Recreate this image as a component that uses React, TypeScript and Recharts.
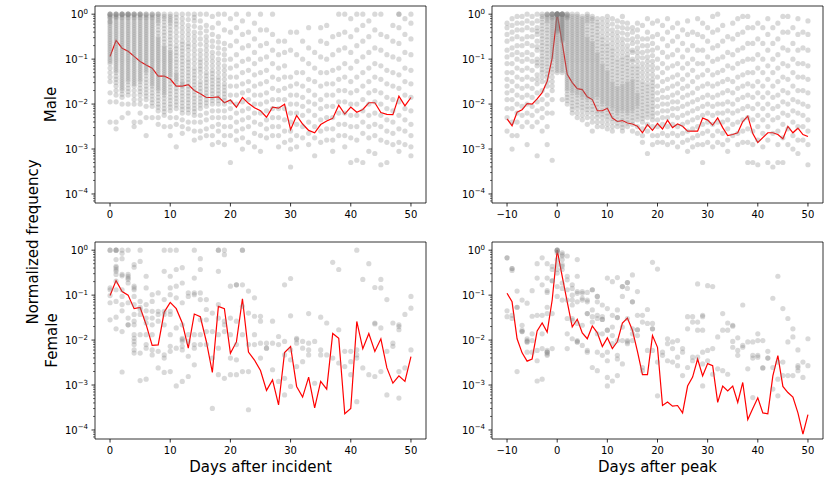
import React from 'react';
import { ComposedChart, Scatter, Line, XAxis, YAxis, ReferenceArea } from 'recharts';

// log10 of each gray point, one list per day
const maleIncidentDotExp: number[][] = [
  [0, 0, 0, -0.05, -0.1, -0.15, -0.2, -0.3, -0.4, -0.5, -0.6, -0.7, -0.8, -0.9, -1.0, -1.1, -1.4, -1.5, -1.75, -1.95, -2.4],
  [0, 0, 0, -0.05, -0.1, -0.2, -0.3, -0.4, -0.5, -0.6, -0.7, -0.8, -0.9, -1.0, -1.1, -1.2, -1.3, -1.45, -1.6, -1.8, -1.95, -2.4, -2.55],
  [0, 0, 0, 0, -0.1, -0.2, -0.3, -0.4, -0.5, -0.6, -0.7, -0.8, -0.9, -1.0, -1.1, -1.2, -1.3, -1.4, -1.5, -1.6, -1.7, -1.85, -2.0, -2.3],
  [0, 0, 0, 0, -0.1, -0.2, -0.3, -0.4, -0.5, -0.6, -0.7, -0.8, -0.9, -1.0, -1.1, -1.2, -1.3, -1.4, -1.5, -1.65, -1.8, -2.0, -2.2],
  [0, 0, 0, -0.1, -0.2, -0.3, -0.4, -0.5, -0.6, -0.7, -0.8, -0.9, -1.0, -1.1, -1.2, -1.3, -1.4, -1.5, -1.6, -1.8, -2.0, -2.4, -2.5],
  [0, 0, 0, -0.1, -0.2, -0.3, -0.4, -0.5, -0.6, -0.7, -0.8, -0.9, -1.0, -1.1, -1.2, -1.3, -1.4, -1.5, -1.65, -1.8, -2.0, -2.2, -2.4],
  [0, 0, -0.1, -0.2, -0.3, -0.4, -0.5, -0.6, -0.7, -0.8, -0.9, -1.0, -1.1, -1.2, -1.3, -1.45, -1.6, -1.75, -1.9, -2.05, -2.3, -2.7],
  [0, 0, -0.1, -0.2, -0.3, -0.4, -0.5, -0.6, -0.7, -0.8, -0.9, -1.0, -1.1, -1.2, -1.3, -1.4, -1.5, -1.6, -1.75, -1.9, -2.05, -2.3],
  [0, 0, -0.1, -0.2, -0.35, -0.5, -0.6, -0.7, -0.8, -0.9, -1.0, -1.1, -1.2, -1.3, -1.4, -1.5, -1.6, -1.7, -1.85, -2.0, -2.15, -2.3, -2.45],
  [0, -0.1, -0.25, -0.4, -0.55, -0.7, -0.8, -0.9, -1.0, -1.1, -1.2, -1.3, -1.4, -1.5, -1.6, -1.7, -1.8, -1.95, -2.1, -2.25, -2.5],
  [0, -0.1, -0.2, -0.35, -0.5, -0.65, -0.8, -0.9, -1.0, -1.1, -1.2, -1.3, -1.4, -1.55, -1.7, -1.85, -2.0, -2.15, -2.3, -2.5, -2.7],
  [0, -0.15, -0.3, -0.5, -0.7, -0.85, -1.0, -1.15, -1.3, -1.4, -1.5, -1.65, -1.8, -1.95, -2.1, -2.3, -2.45, -2.95],
  [0, -0.2, -0.4, -0.6, -0.75, -0.9, -1.05, -1.2, -1.35, -1.5, -1.6, -1.75, -1.9, -2.05, -2.2, -2.35, -2.5, -2.65],
  [0, -0.25, -0.45, -0.65, -0.8, -1.0, -1.15, -1.3, -1.45, -1.6, -1.75, -1.9, -2.05, -2.2, -2.4, -2.55],
  [0, -0.15, -0.4, -0.6, -0.8, -1.0, -1.2, -1.35, -1.5, -1.65, -1.8, -1.95, -2.1, -2.25, -2.4, -2.6, -2.8],
  [0, -0.3, -0.55, -0.8, -1.0, -1.15, -1.3, -1.5, -1.65, -1.8, -1.95, -2.1, -2.25, -2.4, -2.6, -2.75],
  [0, -0.25, -0.5, -0.7, -0.9, -1.1, -1.3, -1.45, -1.6, -1.75, -1.9, -2.05, -2.2, -2.35, -2.55, -2.7],
  [-0.05, -0.3, -0.6, -0.85, -1.05, -1.25, -1.4, -1.55, -1.7, -1.85, -2.0, -2.15, -2.3, -2.5, -2.7, -2.9],
  [0, -0.2, -0.5, -0.75, -1.0, -1.2, -1.4, -1.55, -1.7, -1.85, -2.0, -2.15, -2.3, -2.45, -2.6, -2.85],
  [0, -0.35, -0.65, -0.9, -1.15, -1.35, -1.55, -1.7, -1.85, -2.0, -2.15, -2.3, -2.5, -2.7, -2.9],
  [-0.1, -0.4, -0.7, -1.0, -1.2, -1.4, -1.6, -1.8, -1.95, -2.1, -2.3, -2.5, -2.7, -3.3],
  [0, -0.3, -0.6, -0.9, -1.15, -1.4, -1.6, -1.8, -2.0, -2.2, -2.4, -2.6, -2.8],
  [-0.15, -0.45, -0.75, -1.05, -1.3, -1.55, -1.75, -1.95, -2.15, -2.35, -2.55, -2.75, -3.0],
  [0, -0.4, -0.7, -1.0, -1.25, -1.5, -1.7, -1.9, -2.1, -2.3, -2.5, -2.85],
  [-0.2, -0.55, -0.85, -1.1, -1.35, -1.6, -1.8, -2.0, -2.2, -2.4, -2.65, -2.95],
  [0, -0.35, -0.7, -1.0, -1.3, -1.55, -1.8, -2.0, -2.2, -2.45, -2.7, -3.05],
  [-0.35, -0.65, -0.95, -1.25, -1.5, -1.75, -1.95, -2.15, -2.35, -2.55, -2.75],
  [0, -0.45, -0.8, -1.1, -1.4, -1.65, -1.9, -2.1, -2.3, -2.5, -2.7],
  [-0.6, -0.9, -1.2, -1.45, -1.7, -1.9, -2.1, -2.3, -2.5, -2.7, -2.95],
  [-0.6, -0.85, -1.15, -1.4, -1.65, -1.9, -2.1, -2.35, -2.6, -2.85],
  [-0.4, -0.8, -1.4, -1.6, -1.8, -2.0, -2.2, -2.4, -2.6, -2.8, -3.0, -3.4],
  [-0.4, -0.9, -1.3, -1.55, -1.8, -2.0, -2.2, -2.45, -2.7, -2.95],
  [-0.6, -1.0, -1.3, -1.6, -1.85, -2.05, -2.25, -2.5, -2.75],
  [-0.3, -0.75, -1.1, -1.45, -1.7, -1.95, -2.15, -2.4, -2.65, -2.9],
  [-0.85, -1.2, -1.5, -1.8, -2.0, -2.25, -2.5, -2.75, -3.15],
  [-0.3, -0.6, -0.95, -1.3, -1.6, -1.9, -2.1, -2.35, -2.6, -2.85],
  [-0.25, -0.65, -1.0, -1.3, -1.55, -1.8, -2.05, -2.3, -2.55, -2.8],
  [-0.5, -0.9, -1.25, -1.55, -1.8, -2.05, -2.3, -2.55, -2.8, -3.05],
  [0, -0.45, -0.8, -1.2, -1.45, -1.7, -1.95, -2.2, -2.45, -2.7],
  [0, -0.4, -0.75, -1.1, -1.4, -1.7, -1.95, -2.2, -2.45, -2.7, -2.95],
  [-0.1, -0.5, -0.85, -1.2, -1.5, -1.75, -2.0, -2.25, -2.5, -2.75, -3.3],
  [0, -0.35, -0.7, -1.05, -1.4, -1.7, -2.0, -2.25, -2.5, -2.8, -3.25],
  [0, -0.25, -0.6, -0.95, -1.3, -1.6, -1.9, -2.15, -2.4, -2.65, -3.3],
  [-0.15, -0.5, -0.85, -1.2, -1.5, -1.75, -2.0, -2.25, -2.5, -2.75, -3.05],
  [0, -0.35, -0.75, -1.1, -1.4, -1.7, -1.95, -2.2, -2.45, -2.7, -3.1],
  [0, -0.45, -0.8, -1.15, -1.45, -1.75, -2.0, -2.25, -2.5, -2.8, -3.35],
  [-0.5, -0.9, -1.25, -1.55, -1.85, -2.1, -2.35, -2.6, -2.85, -3.3],
  [-0.25, -0.6, -0.95, -1.3, -1.6, -1.9, -2.15, -2.4, -2.65, -2.9],
  [0, 0, -0.3, -0.65, -1.0, -1.35, -1.65, -1.95, -2.25, -2.55, -2.85, -3.05],
  [-0.1, -0.45, -0.85, -1.2, -1.5, -1.8, -2.1, -2.35, -2.6, -2.9],
  [0, -0.2, -0.55, -0.9, -1.25, -1.55, -1.85, -2.15, -2.45, -2.7, -2.95, -3.15],
];

// extra points in the dark core, days 0..19
const maleIncidentCoreExp: number[][] = [
  [-0.02, -0.07, -0.17, -0.25, -0.35, -0.45, -0.55, -0.65, -0.75, -0.85, -0.95, -1.05, -1.2, -1.3],
  [-0.02, -0.07, -0.15, -0.25, -0.35, -0.45, -0.55, -0.65, -0.75, -0.85, -0.95, -1.05, -1.15, -1.25, -1.38, -1.52, -1.7],
  [-0.03, -0.07, -0.15, -0.25, -0.35, -0.45, -0.55, -0.65, -0.75, -0.85, -0.95, -1.05, -1.15, -1.25, -1.35, -1.45, -1.55, -1.65, -1.78],
  [-0.03, -0.07, -0.15, -0.25, -0.35, -0.45, -0.55, -0.65, -0.75, -0.85, -0.95, -1.05, -1.15, -1.25, -1.35, -1.45, -1.57, -1.72],
  [-0.03, -0.07, -0.15, -0.25, -0.35, -0.45, -0.55, -0.65, -0.75, -0.85, -0.95, -1.05, -1.15, -1.25, -1.35, -1.45, -1.55, -1.7, -1.9],
  [-0.03, -0.07, -0.15, -0.25, -0.35, -0.45, -0.55, -0.65, -0.75, -0.85, -0.95, -1.05, -1.15, -1.25, -1.35, -1.45, -1.57, -1.72, -1.9],
  [-0.03, -0.07, -0.15, -0.25, -0.35, -0.45, -0.55, -0.65, -0.75, -0.85, -0.95, -1.05, -1.15, -1.25, -1.37, -1.52, -1.67, -1.82],
  [-0.03, -0.07, -0.15, -0.25, -0.35, -0.45, -0.55, -0.65, -0.75, -0.85, -0.95, -1.05, -1.15, -1.25, -1.35, -1.45, -1.55, -1.67, -1.82, -1.97],
  [-0.05, -0.15, -0.27, -0.42, -0.55, -0.65, -0.75, -0.85, -0.95, -1.05, -1.15, -1.25, -1.35, -1.45, -1.55, -1.65, -1.77, -1.92, -2.07],
  [-0.05, -0.17, -0.32, -0.47, -0.62, -0.75, -0.85, -0.95, -1.05, -1.15, -1.25, -1.35, -1.45, -1.55, -1.65, -1.75, -1.87, -2.02, -2.17],
  [-0.05, -0.15, -0.27, -0.42, -0.57, -0.72, -0.85, -0.95, -1.05, -1.15, -1.25, -1.35, -1.47, -1.62, -1.77, -1.92, -2.07],
  [-0.07, -0.22, -0.4, -0.6, -0.77, -0.92, -1.07, -1.22, -1.35, -1.45, -1.57, -1.72, -1.87, -2.02],
  [-0.1, -0.3, -0.5, -0.67, -0.82, -0.97, -1.12, -1.27, -1.42, -1.55, -1.67, -1.82, -1.97, -2.12],
  [-0.12, -0.35, -0.55, -0.72, -0.9, -1.07, -1.22, -1.37, -1.52, -1.67, -1.82, -1.97, -2.12],
  [-0.07, -0.27, -0.5, -0.7, -0.9, -1.1, -1.27, -1.42, -1.57, -1.72, -1.87, -2.02, -2.17],
  [-0.15, -0.42, -0.67, -0.9, -1.07, -1.22, -1.4, -1.57, -1.72, -1.87, -2.02],
  [-0.37, -0.6, -0.8, -1.0, -1.2, -1.37, -1.52, -1.67, -1.82, -1.97],
  [-0.45, -0.72, -0.95, -1.15, -1.32, -1.47, -1.62, -1.77, -1.92],
  [-0.62, -0.87, -1.1, -1.3, -1.47, -1.62, -1.77, -1.92],
  [-0.78, -1.02, -1.25, -1.45, -1.62, -1.77, -1.92],
];

// first list is day -10
const malePeakDotExp: number[][] = [
  [-0.2, -0.3, -0.45, -0.6, -0.8, -0.95, -1.1, -1.3, -1.45, -1.6, -1.75, -1.9, -2.1, -2.3, -2.6],
  [-0.1, -0.25, -0.4, -0.55, -0.75, -0.9, -1.1, -1.3, -1.5, -1.7, -1.9, -2.1, -2.4, -2.7, -3.0],
  [-0.05, -0.2, -0.35, -0.5, -0.7, -0.85, -1.0, -1.2, -1.4, -1.6, -1.8, -2.0, -2.2, -2.4, -2.7],
  [-0.05, -0.2, -0.35, -0.55, -0.7, -0.9, -1.05, -1.25, -1.45, -1.65, -1.85, -2.05, -2.25, -2.5],
  [0, -0.15, -0.3, -0.5, -0.65, -0.85, -1.0, -1.2, -1.4, -1.6, -1.8, -2.0, -2.2, -2.4, -2.9],
  [-0.05, -0.2, -0.35, -0.5, -0.7, -0.9, -1.05, -1.25, -1.45, -1.65, -1.85, -2.05, -2.25, -2.5],
  [0, -0.15, -0.3, -0.45, -0.6, -0.8, -1.0, -1.15, -1.35, -1.55, -1.75, -1.95, -2.15, -2.4, -3.15],
  [0, -0.1, -0.25, -0.4, -0.55, -0.7, -0.85, -1.0, -1.15, -1.3, -1.5, -1.7, -1.9, -2.1, -2.3, -2.6],
  [0, 0, -0.1, -0.2, -0.35, -0.5, -0.65, -0.8, -0.95, -1.1, -1.25, -1.4, -1.6, -1.8, -2.0, -2.2, -2.5, -2.9],
  [0, 0, 0, -0.1, -0.2, -0.3, -0.4, -0.5, -0.6, -0.7, -0.8, -0.9, -1.0, -1.15, -1.3, -1.5, -1.7, -1.9, -2.2, -3.25],
  [0, 0, 0, 0, 0, 0, -0.05, -0.1, -0.15, -0.2, -0.25, -0.3, -0.35, -0.4, -0.5, -0.6, -0.7, -0.8, -0.9, -1.0, -1.1, -1.2, -1.3],
  [0, 0, 0, 0, -0.05, -0.1, -0.15, -0.2, -0.25, -0.3, -0.35, -0.4, -0.45, -0.5, -0.55, -0.6, -0.7, -0.8, -0.9, -1.0, -1.1, -1.2, -1.3, -1.9],
  [0, 0, -0.05, -0.1, -0.2, -0.3, -0.4, -0.5, -0.6, -0.7, -0.8, -0.9, -1.0, -1.1, -1.2, -1.3, -1.4, -1.5, -1.6, -1.7, -1.85, -2.0],
  [0, -0.05, -0.15, -0.25, -0.35, -0.45, -0.55, -0.65, -0.75, -0.85, -0.95, -1.05, -1.15, -1.25, -1.35, -1.45, -1.55, -1.65, -1.75, -1.9, -2.05, -2.2],
  [0, -0.1, -0.2, -0.3, -0.4, -0.5, -0.6, -0.7, -0.8, -0.9, -1.0, -1.1, -1.2, -1.3, -1.4, -1.5, -1.6, -1.7, -1.8, -1.95, -2.1, -2.3],
  [-0.05, -0.15, -0.25, -0.35, -0.45, -0.55, -0.65, -0.75, -0.85, -0.95, -1.05, -1.15, -1.25, -1.35, -1.45, -1.55, -1.65, -1.75, -1.85, -2.0, -2.15, -2.35],
  [0, -0.1, -0.2, -0.35, -0.5, -0.6, -0.7, -0.8, -0.9, -1.0, -1.1, -1.2, -1.3, -1.4, -1.5, -1.6, -1.7, -1.8, -1.9, -2.05, -2.2, -2.45],
  [-0.05, -0.15, -0.3, -0.45, -0.6, -0.7, -0.8, -0.9, -1.0, -1.1, -1.2, -1.3, -1.4, -1.5, -1.6, -1.7, -1.8, -1.9, -2.05, -2.2, -2.4, -2.6],
  [-0.1, -0.25, -0.4, -0.55, -0.7, -0.85, -0.95, -1.05, -1.15, -1.25, -1.35, -1.45, -1.55, -1.65, -1.75, -1.85, -2.0, -2.15, -2.3, -2.5],
  [-0.1, -0.3, -0.5, -0.65, -0.8, -0.95, -1.1, -1.2, -1.3, -1.4, -1.5, -1.6, -1.7, -1.8, -1.9, -2.0, -2.15, -2.3, -2.5],
  [-0.05, -0.25, -0.45, -0.65, -0.8, -0.95, -1.1, -1.25, -1.35, -1.45, -1.55, -1.65, -1.75, -1.85, -1.95, -2.05, -2.2, -2.35, -2.55],
  [-0.1, -0.35, -0.55, -0.75, -0.9, -1.05, -1.2, -1.35, -1.5, -1.6, -1.7, -1.8, -1.9, -2.0, -2.1, -2.25, -2.4, -2.6],
  [-0.15, -0.4, -0.6, -0.8, -1.0, -1.15, -1.3, -1.45, -1.6, -1.7, -1.8, -1.9, -2.0, -2.1, -2.2, -2.35, -2.5],
  [-0.05, -0.3, -0.55, -0.75, -0.95, -1.1, -1.25, -1.4, -1.55, -1.65, -1.75, -1.85, -1.95, -2.05, -2.15, -2.3, -2.45, -2.6],
  [-0.2, -0.45, -0.7, -0.9, -1.05, -1.2, -1.35, -1.5, -1.6, -1.7, -1.8, -1.9, -2.0, -2.1, -2.2, -2.35, -2.5],
  [-0.3, -0.55, -0.8, -1.0, -1.15, -1.3, -1.45, -1.55, -1.65, -1.75, -1.85, -1.95, -2.05, -2.15, -2.3, -2.45, -2.6],
  [-0.2, -0.5, -0.75, -0.95, -1.15, -1.3, -1.45, -1.6, -1.75, -1.85, -1.95, -2.05, -2.2, -2.35, -2.5, -2.65],
  [-0.25, -0.55, -0.85, -1.1, -1.3, -1.5, -1.65, -1.8, -1.95, -2.1, -2.25, -2.4, -2.55, -2.7, -2.85],
  [-0.1, -0.4, -0.7, -0.95, -1.15, -1.35, -1.55, -1.7, -1.85, -2.0, -2.15, -2.3, -2.45, -2.6, -3.1],
  [-0.2, -0.5, -0.8, -1.05, -1.25, -1.45, -1.6, -1.75, -1.9, -2.05, -2.2, -2.35, -2.5, -2.7, -2.9],
  [-0.15, -0.45, -0.75, -1.0, -1.2, -1.4, -1.6, -1.75, -1.9, -2.05, -2.2, -2.35, -2.5, -2.7, -2.85],
  [-0.25, -0.55, -0.85, -1.1, -1.3, -1.5, -1.7, -1.85, -2.0, -2.15, -2.3, -2.45, -2.65, -2.85],
  [-0.1, -0.4, -0.7, -0.95, -1.2, -1.45, -1.65, -1.85, -2.0, -2.15, -2.3, -2.5, -2.7, -2.9],
  [-0.3, -0.6, -0.9, -1.15, -1.4, -1.6, -1.8, -1.95, -2.1, -2.25, -2.45, -2.65, -2.85],
  [-0.2, -0.5, -0.8, -1.1, -1.35, -1.55, -1.75, -1.95, -2.1, -2.3, -2.5, -2.7, -2.95],
  [-0.35, -0.65, -0.95, -1.2, -1.45, -1.65, -1.85, -2.05, -2.25, -2.45, -2.65, -2.85],
  [-0.15, -0.45, -0.8, -1.1, -1.35, -1.6, -1.8, -2.0, -2.2, -2.4, -2.6, -2.8, -3.05],
  [-0.4, -0.7, -1.0, -1.25, -1.5, -1.75, -1.95, -2.15, -2.35, -2.55, -2.75, -2.95],
  [-0.1, -0.45, -0.8, -1.1, -1.4, -1.65, -1.9, -2.1, -2.3, -2.5, -2.7, -2.9],
  [-0.2, -0.5, -0.8, -1.1, -1.35, -1.6, -1.85, -2.05, -2.25, -2.45, -2.65, -2.9, -3.3],
  [-0.3, -0.6, -0.95, -1.25, -1.55, -1.8, -2.0, -2.2, -2.4, -2.6, -2.85],
  [-0.05, -0.4, -0.75, -1.05, -1.35, -1.6, -1.85, -2.05, -2.25, -2.45, -2.7, -2.95],
  [0, -0.35, -0.7, -1.0, -1.3, -1.55, -1.8, -2.0, -2.2, -2.4, -2.6, -2.85],
  [-0.25, -0.6, -0.95, -1.25, -1.5, -1.75, -2.0, -2.2, -2.4, -2.65, -2.9],
  [-0.5, -0.85, -1.15, -1.45, -1.7, -1.95, -2.15, -2.35, -2.55, -2.8, -3.05],
  [-0.2, -0.55, -0.9, -1.2, -1.5, -1.75, -2.0, -2.2, -2.45, -2.7],
  [-0.1, -0.45, -0.8, -1.1, -1.4, -1.65, -1.9, -2.15, -2.4, -2.65, -2.9],
  [-0.05, -0.4, -0.75, -1.05, -1.35, -1.6, -1.85, -2.1, -2.35, -2.6, -2.85],
  [-0.05, -0.3, -0.65, -1.0, -1.3, -1.55, -1.8, -2.05, -2.3, -2.55, -2.85, -3.3],
  [-0.3, -0.65, -1.0, -1.3, -1.6, -1.85, -2.1, -2.35, -2.6, -2.9, -3.3],
  [-0.2, -0.55, -0.9, -1.2, -1.5, -1.75, -2.0, -2.25, -2.5, -2.8, -3.35],
  [-0.3, -0.65, -1.0, -1.3, -1.6, -1.85, -2.1, -2.35, -2.65, -2.95],
  [-0.1, -0.45, -0.8, -1.15, -1.45, -1.75, -2.0, -2.25, -2.5, -2.8, -3.3],
  [-0.3, -0.65, -1.0, -1.3, -1.6, -1.85, -2.1, -2.35, -2.65, -3.4],
  [-0.2, -0.55, -0.9, -1.2, -1.5, -1.8, -2.05, -2.3, -2.6, -2.9, -3.3],
  [-0.05, -0.4, -0.75, -1.1, -1.4, -1.7, -1.95, -2.2, -2.45, -2.75, -3.3],
  [-0.05, -0.4, -0.8, -1.15, -1.45, -1.75, -2.0, -2.25, -2.55, -2.9],
  [-0.3, -0.65, -1.0, -1.3, -1.6, -1.9, -2.15, -2.4, -2.7, -3.0],
  [-0.1, -0.45, -0.8, -1.1, -1.4, -1.7, -1.95, -2.2, -2.5, -2.8, -3.1],
  [-0.4, -0.75, -1.1, -1.4, -1.7, -2.0, -2.25, -2.5, -2.8],
  [-0.15, -0.45, -0.8, -1.15, -1.45, -1.75, -2.05, -2.35, -2.6, -2.9, -3.35],
];

// extra points in the dark core, days -4..19
const malePeakCoreExp: number[][] = [
  [-0.38, -0.72, -1.08, -1.45],
  [-0.05, -0.18, -0.33, -0.48, -0.63, -0.78, -0.93, -1.08, -1.23, -1.4],
  [-0.02, -0.06, -0.15, -0.28, -0.42, -0.57, -0.72, -0.87, -1.02, -1.17, -1.33, -1.5],
  [0, -0.05, -0.08, -0.15, -0.25, -0.35, -0.45, -0.55, -0.65, -0.75, -0.85, -0.95, -1.07, -1.22, -1.4, -1.6],
  [0, 0, 0, -0.03, -0.08, -0.13, -0.18, -0.23, -0.28, -0.33, -0.38, -0.45, -0.55, -0.65, -0.75, -0.85, -0.95, -1.05, -1.15, -1.25],
  [0, 0, -0.03, -0.08, -0.13, -0.18, -0.23, -0.28, -0.33, -0.38, -0.43, -0.48, -0.53, -0.58, -0.65, -0.75, -0.85, -0.95, -1.05, -1.15, -1.25],
  [-0.03, -0.08, -0.15, -0.25, -0.35, -0.45, -0.55, -0.65, -0.75, -0.85, -0.95, -1.05, -1.15, -1.25, -1.35, -1.45, -1.55, -1.65, -1.78, -1.92],
  [-0.1, -0.2, -0.3, -0.4, -0.5, -0.6, -0.7, -0.8, -0.9, -1.0, -1.1, -1.2, -1.3, -1.4, -1.5, -1.6, -1.7, -1.82, -1.97, -2.12],
  [-0.05, -0.15, -0.25, -0.35, -0.45, -0.55, -0.65, -0.75, -0.85, -0.95, -1.05, -1.15, -1.25, -1.35, -1.45, -1.55, -1.65, -1.75, -1.87, -2.02, -2.2],
  [-0.1, -0.2, -0.3, -0.4, -0.5, -0.6, -0.7, -0.8, -0.9, -1.0, -1.1, -1.2, -1.3, -1.4, -1.5, -1.6, -1.7, -1.8, -1.92, -2.07, -2.25],
  [-0.05, -0.15, -0.28, -0.42, -0.55, -0.65, -0.75, -0.85, -0.95, -1.05, -1.15, -1.25, -1.35, -1.45, -1.55, -1.65, -1.75, -1.85, -1.97, -2.12, -2.3],
  [-0.1, -0.22, -0.37, -0.52, -0.65, -0.75, -0.85, -0.95, -1.05, -1.15, -1.25, -1.35, -1.45, -1.55, -1.65, -1.75, -1.85, -1.97, -2.12, -2.3],
  [-0.18, -0.32, -0.47, -0.62, -0.77, -0.9, -1.0, -1.1, -1.2, -1.3, -1.4, -1.5, -1.6, -1.7, -1.8, -1.92, -2.07, -2.22, -2.4],
  [-0.2, -0.4, -0.57, -0.72, -0.87, -1.02, -1.15, -1.25, -1.35, -1.45, -1.55, -1.65, -1.75, -1.85, -1.95, -2.07, -2.22, -2.4],
  [-0.15, -0.35, -0.55, -0.72, -0.87, -1.02, -1.17, -1.3, -1.4, -1.5, -1.6, -1.7, -1.8, -1.9, -2.0, -2.12, -2.27, -2.45],
  [-0.22, -0.45, -0.65, -0.82, -0.97, -1.12, -1.27, -1.42, -1.55, -1.65, -1.75, -1.85, -1.95, -2.05, -2.17, -2.32, -2.5],
  [-0.28, -0.5, -0.7, -0.9, -1.07, -1.22, -1.37, -1.52, -1.65, -1.75, -1.85, -1.95, -2.05, -2.15, -2.27, -2.42],
  [-0.18, -0.42, -0.65, -0.85, -1.02, -1.17, -1.32, -1.47, -1.6, -1.7, -1.8, -1.9, -2.0, -2.1, -2.22, -2.37, -2.52],
  [-0.32, -0.57, -0.8, -0.97, -1.12, -1.27, -1.42, -1.55, -1.65, -1.75, -1.85, -1.95, -2.05, -2.15, -2.27, -2.42],
  [-0.4, -0.65, -0.85, -1.05, -1.22, -1.37, -1.5, -1.6, -1.7, -1.8, -1.9, -2.0, -2.1, -2.22, -2.37],
  [-0.35, -0.62, -0.85, -1.05, -1.22, -1.37, -1.52, -1.67, -1.8, -1.9, -2.0, -2.12, -2.27],
  [-0.7, -0.97, -1.2, -1.4, -1.57, -1.72, -1.87, -2.02, -2.17, -2.32],
  [-0.55, -0.82, -1.05, -1.25, -1.45, -1.62, -1.77, -1.92, -2.07, -2.22],
  [-0.65, -0.92, -1.15, -1.35, -1.52, -1.67, -1.82, -1.97, -2.12, -2.27],
];

const femaleIncidentDotExp: number[][] = [
  [0, 0, -0.84, -0.88, -1.01, -1.17, -1.55],
  [0, 0, 0, -0.21, -0.36, -0.39, -0.43, -0.47, -0.54, -0.69, -0.88, -1.14, -1.49, -1.75],
  [0, -0.07, -0.19, -0.54, -0.57, -0.88, -1.03, -1.21, -1.35, -1.81, -2.71],
  [0, -0.54, -0.58, -0.62, -0.65, -0.73, -1.17, -1.51, -1.66, -1.66],
  [-0.32, -0.38, -0.8, -0.84, -0.88, -1.03, -1.21, -1.43, -1.58, -1.66, -1.88, -1.96, -2.03, -2.1, -2.22, -2.29],
  [0, -0.25, -1.14, -1.27, -1.32, -1.43, -1.88, -2.29, -2.9],
  [-0.58, -0.84, -1.21, -1.35, -1.51, -1.62, -1.88, -2.1, -2.18, -2.87],
  [-0.99, -1.14, -1.36, -1.51, -1.66, -1.88, -2.22, -2.33],
  [-0.95, -1.36, -1.43, -1.58, -2.25, -2.62],
  [0, -0.47, -1.1, -1.36, -1.43, -1.66, -2.33, -2.4, -2.72],
  [0, -0.58, -0.84, -0.99, -1.36, -1.43, -1.88, -2.14, -2.25, -2.7],
  [0, -0.43, -0.8, -1.06, -1.73, -2.18, -3.02],
  [-0.39, -0.73, -1.17, -1.66, -1.96, -1.99, -2.03, -2.14, -2.22, -2.92],
  [-0.95, -1.03, -1.88, -2.03, -2.36, -2.81],
  [0, -0.62, -0.95, -0.99, -1.88, -2.1, -2.18, -2.55],
  [-0.19, -0.43, -0.95, -1.1, -1.55, -1.88, -2.1],
  [-1.1, -1.32, -1.55, -1.81, -2.1],
  [-1.4, -1.81, -2.4, -3.52],
  [0, 0, -0.47, -1.21, -1.51, -1.88, -2.18, -2.77],
  [0, -0.1, -1.58, -1.66, -1.81, -2.85],
  [-0.8, -1.51, -1.88, -2.4, -2.77],
  [-0.77, -0.77, -1.58, -2.1, -2.44, -2.77],
  [0, 0, -0.77, -1.25, -1.88, -2.7],
  [-0.91, -1.4, -2.1, -2.7, -3.55],
  [-1.06, -1.47, -1.88, -2.1],
  [-1.47, -1.58, -2.07, -2.4],
  [-2.07, -2.18, -2.18],
  [-1.58, -2.07, -2.66],
  [-1.92, -2.1, -2.92],
  [-0.77, -2.03, -2.33, -2.85, -3.22],
  [-0.63, -1.46, -2.22, -2.44, -3.03],
  [-1.96, -1.99, -2.07, -2.59],
  [-2.03, -2.18, -2.48],
  [-1.41, -2.07, -2.22, -2.33],
  [-2.03, -2.96],
  [-1.49, -2.22, -2.33],
  [-1.62, -2.33],
  [-0.27, -2.4],
  [-0.43, -1.77, -2.51],
  [-2.25, -2.59],
  [-2.25, -2.48, -2.77],
  [0, -2.22, -2.33, -2.4, -3.37],
  [-0.65, -2.62],
  [-0.3, -2.77],
  [-0.83, -1.62, -1.64, -2.81],
  [-0.65, -0.84, -1.73, -2.7],
  [-1.1, -2.25, -3.22],
  [-1.62, -2.07, -2.14],
  [-1.66, -1.7, -1.77, -2.7, -3.29],
  [-1.43, -2.62],
  [-1.03, -1.29, -2.22],
];

// first list is day -10
const femalePeakDotExp: number[][] = [
  [-0.17, -0.17, -1.35, -1.48],
  [-0.41, -0.41, -0.45, -1.45, -1.52],
  [-0.91, -1.27, -1.27, -2.7],
  [-1.11, -1.67, -1.78, -1.81, -1.81],
  [-1.18, -1.97, -2.01, -2.04, -2.04, -2.27],
  [-0.9, -1.47, -1.86, -2.01, -2.27],
  [-0.3, -0.62, -1.45, -2.23, -2.46, -2.91],
  [-0.17, -0.77, -1.45, -1.86, -2.19, -2.87],
  [-0.3, -0.62, -0.9, -0.94, -1.27, -1.41, -2.23, -2.27, -2.27, -2.31, -2.34],
  [-0.36, -0.43, -0.68, -0.68, -1.41, -2.19],
  [0, 0, 0, -0.02, -0.06, -0.21, -0.32, -0.43, -0.51, -0.81, -1.03],
  [-0.06, -0.1, -0.13, -0.21, -0.32, -0.36, -0.43, -0.73, -0.85, -1.11],
  [-0.13, -0.58, -0.66, -0.88, -1.11, -1.52, -1.86, -2.19],
  [-0.77, -0.85, -1.0, -1.11, -1.22, -1.52, -1.56, -1.97],
  [-0.21, -0.58, -0.92, -0.96, -1.15, -1.63, -2.01, -2.04, -2.04],
  [-0.92, -0.96, -1.07, -1.11, -1.67, -2.12],
  [-0.94, -1.11, -1.15, -1.41, -1.41, -2.23, -2.27],
  [-0.88, -0.88, -1.33, -1.48, -1.6, -2.61],
  [-1.03, -1.03, -1.15, -1.45, -1.52, -1.86, -2.27, -2.68],
  [-1.22, -1.48, -1.54, -1.54, -1.86, -2.34],
  [-0.62, -1.3, -1.78, -1.78, -2.27, -2.46, -2.83, -3.02],
  [-0.7, -1.45, -1.71, -1.9, -2.08, -2.91],
  [-0.61, -1.33, -1.5, -1.5, -2.01, -2.34, -2.42, -2.79],
  [-0.81, -0.81, -1.03, -1.71, -2.01, -2.53],
  [-0.72, -0.72, -0.85, -1.52, -2.01, -2.04, -2.08],
  [-0.55, -1.15, -1.15, -1.75, -1.86, -2.01],
  [-0.92, -1.45, -1.77, -1.77, -1.9],
  [-1.45, -1.6, -2.61, -2.68],
  [-1.32, -1.63, -2.23],
  [-0.27, -1.63, -1.75, -1.75, -2.23],
  [-0.42, -2.49, -3.24],
  [-2.27, -2.34],
  [-1.97, -2.08, -2.46],
  [-2.04, -2.19, -2.49],
  [-2.01, -2.38, -2.57],
  [-2.19, -2.27, -2.79],
  [-1.48, -1.75, -2.61],
  [-1.48, -1.6, -2.38, -2.46],
  [-0.75, -1.6, -1.78, -2.38],
  [-1.45, -1.48, -1.78, -2.27, -2.53, -3.02],
  [-0.79, -2.23, -2.46],
  [-0.81, -2.19, -2.76],
  [-1.93, -2.64],
  [-1.41, -1.78, -2.68],
  [-1.62, -1.78, -2.76],
  [-1.67, -1.69, -2.03, -2.16],
  [-1.95, -2.23, -2.34],
  [-1.22, -2.12, -2.16],
  [-2.04, -2.64],
  [-2.04, -2.34, -2.4, -3.28],
  [-1.86, -2.01, -2.34, -2.38],
  [-2.01, -2.62, -2.62],
  [-2.25, -2.4, -2.4],
  [-1.07, -2.61, -3.09],
  [-0.58, -2.49, -2.87, -3.24],
  [-1.3, -2.49, -2.79],
  [-1.52, -2.04, -2.79],
  [-1.75, -1.93, -2.79],
  [-2.22, -2.57, -2.61, -2.68],
  [-2.49, -2.83],
  [-1.97, -2.57],
];

// red mean lines
const maleIncidentMean = [
  0.115, 0.26, 0.175, 0.15, 0.115, 0.089, 0.074, 0.063, 0.042, 0.042, 0.036,
  0.025, 0.025, 0.027, 0.02, 0.017, 0.014, 0.014, 0.0145, 0.0107, 0.0123,
  0.0085, 0.014, 0.0104, 0.0083, 0.0071, 0.0051, 0.0085, 0.0081, 0.0099, 0.0027,
  0.0056, 0.0036, 0.0026, 0.0023, 0.0035, 0.0042, 0.0048, 0.0094, 0.006, 0.0086,
  0.0066, 0.0076, 0.0107, 0.0107, 0.0065, 0.0059, 0.0058, 0.015, 0.0091, 0.014,
];
const malePeakMean = [
  0.0047, 0.0033, 0.0066, 0.0075, 0.0102, 0.01, 0.013, 0.018, 0.032, 0.107,
  1.0, 0.23, 0.046, 0.03, 0.022, 0.021, 0.0145, 0.0126, 0.0071, 0.0071, 0.0081,
  0.0049, 0.0041, 0.0043, 0.0038, 0.0036, 0.0032, 0.0023, 0.0035, 0.0026, 0.0037,
  0.0028, 0.0044, 0.003, 0.0036, 0.0032, 0.0025, 0.0025, 0.0025, 0.0049, 0.0044,
  0.0034, 0.0049, 0.003, 0.002, 0.0021, 0.0023, 0.0041, 0.0054, 0.0022, 0.0014,
  0.0018, 0.0023, 0.0023, 0.0021, 0.0017, 0.0032, 0.0023, 0.0029, 0.0021, 0.0019,
];
const femaleIncidentMean = [
  0.098, 0.21, 0.12, 0.1, 0.05, 0.053, 0.022, 0.0076, 0.0078, 0.042, 0.069,
  0.05, 0.024, 0.0066, 0.038, 0.033, 0.0093, 0.0019, 0.056, 0.05, 0.0051,
  0.0091, 0.083, 0.0054, 0.0036, 0.0021, 0.00076, 0.0013, 0.00036, 0.0053, 0.0072,
  0.00093, 0.00054, 0.0015, 0.00031, 0.0012, 0.00081, 0.014, 0.011, 0.00023, 0.0003,
  0.026, 0.0064, 0.014, 0.0056, 0.0107, 0.0024, 0.0011, 0.0016, 0.0012, 0.0043,
];
const femalePeakMean = [
  0.11, 0.071, 0.0107, 0.0052, 0.0034, 0.0038, 0.016, 0.024, 0.015, 0.078,
  1.0, 0.26, 0.071, 0.0196, 0.029, 0.0144, 0.0107, 0.0206, 0.0145, 0.0072, 0.0112,
  0.0065, 0.0093, 0.024, 0.031, 0.0165, 0.0056, 0.0017, 0.0017, 0.0126, 0.0069,
  0.00035, 0.00042, 0.00034, 0.00035, 0.00024, 0.00095, 0.0015, 0.0038, 0.0016, 0.003,
  0.0027, 0.00041, 0.00095, 0.00074, 0.00095, 0.00041, 0.00114, 0.00017, 0.0003, 0.00052,
  0.00024, 0.00023, 0.0016, 0.0045, 0.00093, 0.00068, 0.00054, 0.00024, 0.000081, 0.00022,
];

const incidentTicks = [0, 10, 20, 30, 40, 50];
const peakTicks = [-10, 0, 10, 20, 30, 40, 50];
const majorYTicks = [1e-4, 1e-3, 1e-2, 1e-1, 1];

const Y_MIN = 6.3e-5;
const Y_MAX = 1.52;
const minorYTicks = [7e-5, 8e-5, 9e-5].concat(
  [1e-4, 1e-3, 1e-2, 1e-1].flatMap((d) => [2, 3, 4, 5, 6, 7, 8, 9].map((m) => +(m * d).toPrecision(2)))
);
const yTicks = [...minorYTicks, ...majorYTicks].sort((a, b) => a - b);

const FONT = 'DejaVu Sans, sans-serif';

function YTick(props: any) {
  const { x, y, payload } = props;
  const lg = Math.log10(payload.value);
  const e = Math.round(lg);
  const major = Math.abs(lg - e) < 1e-6;
  return (
    <g>
      <line x1={x - (major ? 3.5 : 2)} x2={x} y1={y} y2={y} stroke="#000" strokeWidth={major ? 0.8 : 0.6} />
      {major && (
        <text x={x - 7} y={y + 3.7} textAnchor="end" fontSize={10} fontFamily={FONT} fill="#000">
          10
          <tspan dy={-4.2} fontSize={7}>{e === 0 ? '0' : '\u2212' + -e}</tspan>
        </text>
      )}
    </g>
  );
}

function XTick(props: any) {
  const { x, y, payload } = props;
  const v = payload.value;
  return (
    <g>
      <line x1={x} x2={x} y1={y} y2={y + 3.5} stroke="#000" strokeWidth={0.8} />
      <text x={x} y={y + 15.3} textAnchor="middle" fontSize={10} fontFamily={FONT} fill="#000">
        {v < 0 ? '\u2212' + -v : String(v)}
      </text>
    </g>
  );
}

const dotShape = (p: any) => <circle cx={p.cx} cy={p.cy} r={2.6} fill="#808080" fillOpacity={0.3} />;

const toPoints = (cols: number[][], first: number) =>
  cols.flatMap((col, i) => col.map((e) => ({ x: first + i, y: Math.pow(10, e) })));

type PanelProps = {
  dots: number[][];
  core?: number[][];
  coreStart?: number;
  mean: number[];
  start: number;
  ticks: number[];
};

function Panel({ dots, core, coreStart, mean, start, ticks }: PanelProps) {
  const pts = toPoints(dots, start).concat(core ? toPoints(core, coreStart ?? start) : []);
  const line = mean.map((v, i) => ({ x: start + i, y: v }));
  const pad = (50 - start) * 0.05;
  const xMin = start - pad;
  const xMax = 50 + pad;
  return (
    <ComposedChart width={400} height={230} margin={{ top: 6, right: 14, bottom: 0, left: 0 }}>
      <XAxis
        type="number"
        dataKey="x"
        domain={[xMin, xMax]}
        ticks={ticks}
        allowDataOverflow
        axisLine={false}
        tickLine={false}
        tickSize={0}
        tickMargin={0}
        height={27}
        tick={<XTick />}
        interval={0}
      />
      <YAxis
        type="number"
        dataKey="y"
        scale="log"
        domain={[Y_MIN, Y_MAX]}
        ticks={yTicks}
        allowDataOverflow
        axisLine={false}
        tickLine={false}
        tickSize={0}
        tickMargin={0}
        width={55}
        tick={<YTick />}
        interval={0}
      />
      <Scatter data={pts} dataKey="y" shape={dotShape} isAnimationActive={false} />
      <Line data={line} dataKey="y" type="linear" stroke="#ff0000" strokeWidth={1.2} dot={false} isAnimationActive={false} />
      <ReferenceArea x1={xMin} x2={xMax} y1={Y_MIN} y2={Y_MAX} fill="none" fillOpacity={0} stroke="#000" strokeWidth={0.8} ifOverflow="visible" />
    </ComposedChart>
  );
}

export default function App() {
  const place = (left: number, top: number): React.CSSProperties => ({ position: 'absolute', left, top });
  return (
    <div style={{ position: 'absolute', left: 0, top: 0, width: 831, height: 483, background: '#fff', fontFamily: FONT }}>
      <div style={place(40, 0)}>
        <Panel dots={maleIncidentDotExp} core={maleIncidentCoreExp} coreStart={0} mean={maleIncidentMean} start={0} ticks={incidentTicks} />
      </div>
      <div style={place(437, 0)}>
        <Panel dots={malePeakDotExp} core={malePeakCoreExp} coreStart={-4} mean={malePeakMean} start={-10} ticks={peakTicks} />
      </div>
      <div style={place(40, 236)}>
        <Panel dots={femaleIncidentDotExp} mean={femaleIncidentMean} start={0} ticks={incidentTicks} />
      </div>
      <div style={place(437, 236)}>
        <Panel dots={femalePeakDotExp} mean={femalePeakMean} start={-10} ticks={peakTicks} />
      </div>
      <svg width={831} height={483} style={{ position: 'absolute', left: 0, top: 0, pointerEvents: 'none' }}>
        <g fontFamily={FONT} fontSize={15} fill="#000">
          <text transform="translate(38,242) rotate(-90)" textAnchor="middle">Normalized frequency</text>
          <text transform="translate(56,104.5) rotate(-90)" textAnchor="middle">Male</text>
          <text transform="translate(57,340.5) rotate(-90)" textAnchor="middle">Female</text>
          <text x={260.5} y={472} textAnchor="middle">Days after incident</text>
          <text x={657.5} y={472} textAnchor="middle">Days after peak</text>
        </g>
      </svg>
    </div>
  );
}
